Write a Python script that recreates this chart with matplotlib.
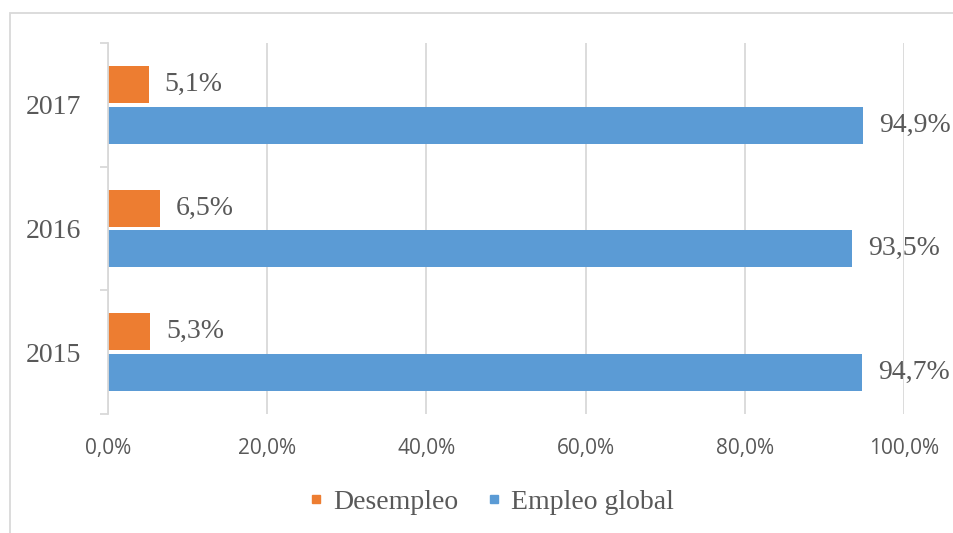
import matplotlib
matplotlib.use('Agg')
import matplotlib.pyplot as plt
from matplotlib.lines import Line2D
from matplotlib.patches import Rectangle
import numpy as np

# datos
years = ['2015', '2016', '2017']
desempleo = [5.3, 6.5, 5.1]
empleo = [94.7, 93.5, 94.9]
xticks = [0, 20, 40, 60, 80, 100]

orange = '#ED7D31'
blue = '#5B9BD5'
gray_txt = '#595959'
grid_col = '#D9D9D9'
serif = ['Liberation Serif', 'DejaVu Serif']

fig = plt.figure(figsize=(9.54, 5.33), dpi=100)
ax = fig.add_axes([108 / 954, 1 - 414 / 533, (904 - 108) / 954, (414 - 43) / 533])

# marco del gráfico
fig.patches.append(Rectangle((10 / 954, -0.05), 1.0, 1 - 13 / 533 + 0.05,
                             transform=fig.transFigure, fill=False,
                             edgecolor=grid_col, linewidth=1.3, zorder=0))

y = np.arange(len(years))
h = 0.30
off = 0.165
ax.barh(y + off, desempleo, height=h, color=orange, zorder=3)
ax.barh(y - off, empleo, height=h, color=blue, zorder=3)

for yi, v in zip(y, desempleo):
    ax.annotate(f'{v:.1f}%'.replace('.', ','), (v, yi + off), xytext=(16, 0),
                textcoords='offset pixels', va='center', ha='left',
                fontsize=20, family=serif, color=gray_txt)
for yi, v in zip(y, empleo):
    ax.annotate(f'{v:.1f}%'.replace('.', ','), (v, yi - off), xytext=(16, 0),
                textcoords='offset pixels', va='center', ha='left',
                fontsize=20, family=serif, color=gray_txt,
                annotation_clip=False)

ax.set_xlim(0, 100)
ax.set_ylim(-0.5, 2.5)
ax.set_xticks(xticks)
ax.set_xticklabels([f'{t:.1f}%'.replace('.', ',') for t in xticks],
                   fontsize=15, family=['Open Sans', 'DejaVu Sans'], color=gray_txt)
ax.tick_params(axis='x', length=0, pad=17)
ax.set_yticks(y)
ax.set_yticklabels(years, fontsize=20, family=serif, color=gray_txt)
ax.set_yticks([-0.5, 0.5, 1.5, 2.5], minor=True)
ax.tick_params(axis='y', which='major', length=0, pad=19)
ax.tick_params(axis='y', which='minor', length=5.5, width=1.3, color=grid_col)

ax.grid(axis='x', color=grid_col, linewidth=1.3, zorder=0)
for s in ['top', 'right', 'bottom']:
    ax.spines[s].set_visible(False)
ax.spines['left'].set_color(grid_col)
ax.spines['left'].set_linewidth(1.3)
ax.spines['left'].set_zorder(4)

handles = [Line2D([], [], marker='s', linestyle='none', color=orange, markersize=5.5),
           Line2D([], [], marker='s', linestyle='none', color=blue, markersize=5.5)]
fig.legend(handles, ['Desempleo', 'Empleo global'], loc='center',
           bbox_to_anchor=(491 / 954, 1 - 502 / 533), ncol=2, frameon=False,
           prop={'family': serif, 'size': 20}, labelcolor=gray_txt,
           handlelength=0.6, handletextpad=0.3, columnspacing=1.0)

fig.savefig('out.png', dpi=100)
